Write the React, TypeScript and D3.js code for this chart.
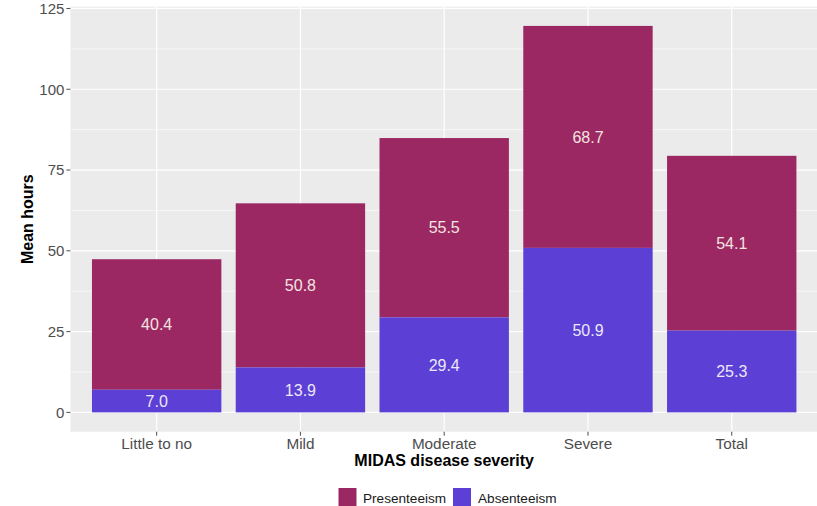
import React from "react";
import * as d3 from "d3";

const categories = ["Little to no", "Mild", "Moderate", "Severe", "Total"];
const absenteeism = [7.0, 13.9, 29.4, 50.9, 25.3];
const presenteeism = [40.4, 50.8, 55.5, 68.7, 54.1];
const yTicks = [0, 25, 50, 75, 100, 125];
const yMinor = [12.5, 37.5, 62.5, 87.5, 112.5];
const seriesNames = ["Presenteeism", "Absenteeism"];

const W = 817;
const H = 506;
const COL_PRES = "#9c2863";
const COL_ABS = "#5c3fd4";
const FONT = "'Liberation Sans', Arial, sans-serif";

export default function App() {
  const panel = { left: 70.4, right: 818, top: 6.6, bottom: 431.7 };
  const totals = categories.map((_, i) => absenteeism[i] + presenteeism[i]);
  const maxT = d3.max(totals) as number;
  const pad = maxT * 0.05;
  const y = d3.scaleLinear().domain([-pad, maxT + pad]).range([panel.bottom, panel.top]);
  // ggplot discrete: expand 0.6 each side; bar width 0.9
  const x = d3
    .scalePoint<string>()
    .domain(categories)
    .range([panel.left, panel.right])
    .padding(0.6);
  const step = x.step();
  const bw = step * 0.9;

  return (
    <svg width={W} height={H} style={{ position: "absolute", left: 0, top: 0, fontFamily: FONT }}>
      <rect x={0} y={0} width={W} height={H} fill="#ffffff" />
      <rect x={panel.left} y={panel.top} width={panel.right - panel.left} height={panel.bottom - panel.top} fill="#ebebeb" />
      {yMinor.map((t) => (
        <line key={"mn" + t} x1={panel.left} x2={panel.right} y1={y(t)} y2={y(t)} stroke="#ffffff" strokeWidth={0.6} />
      ))}
      {yTicks.map((t) => (
        <line key={"mj" + t} x1={panel.left} x2={panel.right} y1={y(t)} y2={y(t)} stroke="#ffffff" strokeWidth={1.2} />
      ))}
      {categories.map((c) => (
        <line key={"vx" + c} x1={x(c)} x2={x(c)} y1={panel.top} y2={panel.bottom} stroke="#ffffff" strokeWidth={1.2} />
      ))}
      {categories.map((c, i) => {
        const a = absenteeism[i];
        const p = presenteeism[i];
        const cx = x(c) as number;
        return (
          <g key={"bar" + c}>
            <rect x={cx - bw / 2} y={y(a + p)} width={bw} height={y(a) - y(a + p)} fill={COL_PRES} />
            <rect x={cx - bw / 2} y={y(a)} width={bw} height={y(0) - y(a)} fill={COL_ABS} />
            <text x={cx} y={y(a + p / 2)} dy="0.36em" textAnchor="middle" fontSize={16} fill="#f3e4e0">
              {p.toFixed(1)}
            </text>
            <text x={cx} y={y(a / 2)} dy="0.36em" textAnchor="middle" fontSize={16} fill="#ece8fa">
              {a.toFixed(1)}
            </text>
          </g>
        );
      })}
      {yTicks.map((t) => (
        <g key={"yt" + t}>
          <line x1={panel.left - 4} x2={panel.left} y1={y(t)} y2={y(t)} stroke="#4d4d4d" strokeWidth={1} />
          <text x={panel.left - 6} y={y(t)} dy="0.36em" textAnchor="end" fontSize={15} fill="#4d4d4d">
            {t}
          </text>
        </g>
      ))}
      {categories.map((c) => (
        <g key={"xt" + c}>
          <line x1={x(c)} x2={x(c)} y1={panel.bottom} y2={panel.bottom + 4} stroke="#4d4d4d" strokeWidth={1} />
          <text x={x(c)} y={panel.bottom + 17.5} textAnchor="middle" fontSize={15.3} fill="#4d4d4d">
            {c}
          </text>
        </g>
      ))}
      <text x={(panel.left + panel.right) / 2} y={466} textAnchor="middle" fontSize={16} fontWeight="bold" fill="#000">
        MIDAS disease severity
      </text>
      <text
        transform={`translate(33, ${(panel.top + panel.bottom) / 2}) rotate(-90)`}
        textAnchor="middle"
        fontSize={16}
        fontWeight="bold"
        fill="#000"
      >
        Mean hours
      </text>
      <g>
        <rect x={338.5} y={488} width={18} height={18} fill={COL_PRES} />
        <text x={363} y={503} fontSize={13.6} fill="#1a1a1a">{seriesNames[0]}</text>
        <rect x={453} y={488} width={18} height={18} fill={COL_ABS} />
        <text x={478} y={503} fontSize={13.6} fill="#1a1a1a">{seriesNames[1]}</text>
      </g>
    </svg>
  );
}
